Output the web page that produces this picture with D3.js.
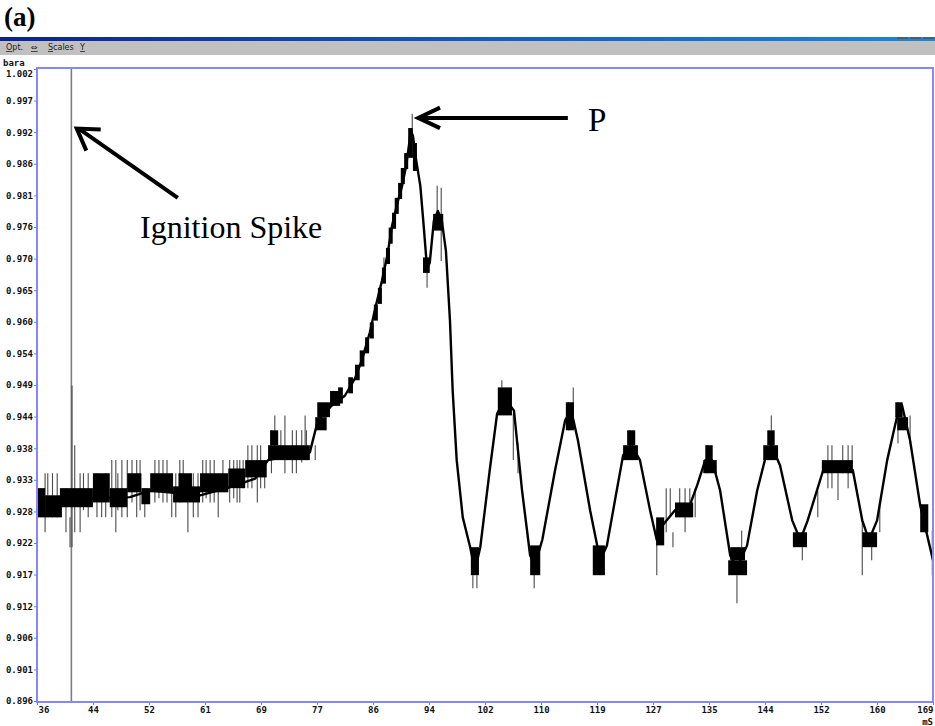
<!DOCTYPE html>
<html>
<head>
<meta charset="utf-8">
<script src="https://cdn.jsdelivr.net/npm/d3@7"></script>
<style>
  html, body { margin: 0; padding: 0; background: #fff; }
  svg { display: block; }
  .axis text { font-family: "DejaVu Sans Mono", monospace; font-weight: bold; font-size: 9px; fill: #111; }
  .axis line { stroke: #7878ff; }
</style>
</head>
<body>
<svg id="chart" width="935" height="726"></svg>
<script>
// axis ranges and tick labels as printed by the logger
const xDomain = [36, 169];
const yDomain = [0.896, 1.002];
const xTickLabels = ["36","44","52","61","69","77","86","94","102","110","119","127","135","144","152","160","169"];
const yTickLabels = ["0.896","0.901","0.906","0.912","0.917","0.922","0.928","0.933","0.938","0.944","0.949","0.954","0.960","0.965","0.970","0.976","0.981","0.986","0.992","0.997","1.002"];

// ignition marker (ms)
const ignitionMs = 41.1;

// main pressure trace [ms, bara]
const trace = [
  [36.0,0.9293],[39.7,0.9287],[44.3,0.9300],[49.8,0.9302],[52.8,0.9313],[60.2,0.9305],[64.2,0.9317],
  [68.4,0.9333],[70.3,0.9364],[76.5,0.9377],[77.7,0.9431],[79.8,0.9456],[81.7,0.9472],[83.2,0.9501],
  [84.2,0.9531],[85.4,0.9578],[86.3,0.9623],[87.2,0.9665],[88.0,0.9707],[88.7,0.9757],[89.4,0.9791],
  [90.2,0.9824],[90.8,0.9858],[91.2,0.9891],[91.5,0.9916],[91.8,0.9908],[92.3,0.9866],[92.9,0.9824],
  [93.4,0.9757],[93.9,0.9685],[94.3,0.9695],[94.9,0.9765],[95.5,0.9782],[96.1,0.9765],[96.7,0.9715],
  [97.3,0.9598],[97.7,0.9481],[98.3,0.9364],[99.2,0.9268],[100.3,0.9218],[101.0,0.9179],[101.8,0.9218],
  [103.2,0.9347],[104.3,0.9442],[105.5,0.9467],[106.8,0.9447],[108.0,0.9313],[109.2,0.9204],[109.9,0.9188],
  [111.0,0.9230],[112.9,0.9347],[114.4,0.9431],[115.3,0.9447],[116.3,0.9397],[118.1,0.9280],[119.6,0.9196],
  [120.6,0.9221],[121.8,0.9297],[123.0,0.9372],[124.2,0.9389],[125.5,0.9364],[127.0,0.9280],[128.0,0.9230],
  [128.9,0.9255],[130.7,0.9280],[132.9,0.9288],[134.0,0.9322],[135.2,0.9364],[136.2,0.9364],[137.4,0.9313],
  [138.9,0.9204],[139.9,0.9183],[141.4,0.9221],[142.9,0.9313],[144.4,0.9380],[145.0,0.9389],[146.3,0.9355],
  [148.1,0.9263],[149.3,0.9230],[150.4,0.9263],[152.7,0.9347],[154.9,0.9355],[157.1,0.9347],[158.5,0.9263],
  [159.5,0.9230],[160.7,0.9263],[162.2,0.9364],[163.7,0.9439],[164.4,0.9456],[165.6,0.9397],[167.1,0.9288],
  [169.0,0.9196]
];

// dense toggling between adjacent levels [msStart, msEnd, high, low]
const blocks = [
  // flat pre-ignition band
  [36.0,37.2,0.9317,0.9268],[37.2,39.7,0.9305,0.9268],[39.4,44.3,0.9317,0.9285],[44.3,46.8,0.9342,0.9293],
  [46.8,49.4,0.9317,0.9285],[49.4,51.5,0.9342,0.9310],[51.5,52.8,0.9317,0.9290],[52.8,56.2,0.9342,0.9310],
  [56.2,60.2,0.9320,0.9293],[57.0,59.0,0.9342,0.9317],[60.2,64.4,0.9342,0.9310],[64.4,66.9,0.9350,0.9317],
  [66.9,70.1,0.9364,0.9335],[70.3,76.5,0.9389,0.9364],[70.6,71.8,0.9414,0.9389],[77.3,79.0,0.9436,0.9414],
  [77.6,79.5,0.9461,0.9436],[79.5,81.0,0.9480,0.9455],
  // rise to the peak
  [80.7,81.4,0.9486,0.9459],[82.2,82.9,0.9503,0.9476],[83.2,83.9,0.9524,0.9498],[83.9,84.6,0.9548,0.9521],
  [84.7,85.3,0.9570,0.9543],[85.4,86.0,0.9595,0.9568],[86.0,86.6,0.9625,0.9598],[86.6,87.2,0.9653,0.9626],
  [87.2,87.8,0.9687,0.9660],[87.8,88.4,0.9720,0.9693],[88.2,88.8,0.9754,0.9727],[88.7,89.3,0.9779,0.9752],
  [89.1,89.7,0.9804,0.9777],[89.6,90.2,0.9829,0.9802],[90.0,90.6,0.9854,0.9827],[90.5,91.1,0.9879,0.9852],
  [91.1,91.8,0.9921,0.9871],[91.8,92.4,0.9896,0.9849],[93.3,94.3,0.9704,0.9678],[94.8,96.3,0.9777,0.9749],
  // oscillations
  [100.4,101.6,0.9218,0.9171],[104.4,106.5,0.9486,0.9439],[109.2,110.7,0.9221,0.9171],[114.5,115.7,0.9461,0.9414],
  [118.5,120.3,0.9221,0.9171],[123.0,125.2,0.9389,0.9364],[123.6,124.8,0.9414,0.9389],[127.9,129.1,0.9268,0.9221],
  [130.7,133.4,0.9293,0.9268],[134.9,136.9,0.9364,0.9342],[135.2,136.3,0.9389,0.9364],[138.6,141.4,0.9196,0.9171],
  [138.9,141.1,0.9218,0.9196],[143.8,146.0,0.9389,0.9364],[144.4,145.5,0.9414,0.9389],[148.2,150.3,0.9243,0.9218],
  [152.5,157.1,0.9364,0.9342],[158.5,160.7,0.9243,0.9218],[163.4,164.5,0.9461,0.9436],[163.7,165.3,0.9436,0.9414],
  [167.1,168.3,0.9290,0.9243]
];

// single-sample noise spikes [ms, high, low]
const spikes = [
  [37.2,0.9342,0.9243],[37.6,0.9342,0.9268],[38.3,0.9342,0.9268],[39.0,0.9342,0.9268],[40.3,0.9317,0.9243],
  [40.9,0.9268,0.9218],[41.2,0.9489,0.9218],[41.6,0.9389,0.9243],[42.4,0.9342,0.9243],[42.9,0.9342,0.9280],
  [43.6,0.9342,0.9268],[44.9,0.9342,0.9268],[45.6,0.9317,0.9268],[46.2,0.9342,0.9268],[47.1,0.9364,0.9268],
  [47.7,0.9364,0.9243],[48.0,0.9342,0.9280],[48.6,0.9364,0.9268],[49.4,0.9364,0.9268],[50.1,0.9364,0.9293],
  [50.8,0.9364,0.9268],[51.3,0.9364,0.9280],[52.0,0.9317,0.9268],[53.5,0.9364,0.9293],[54.1,0.9364,0.9300],
  [54.7,0.9364,0.9293],[55.3,0.9364,0.9293],[56.0,0.9317,0.9268],[56.6,0.9342,0.9268],[57.2,0.9364,0.9293],
  [57.7,0.9364,0.9317],[58.4,0.9317,0.9243],[59.2,0.9342,0.9268],[59.9,0.9342,0.9268],[60.6,0.9364,0.9293],
  [61.1,0.9364,0.9300],[61.7,0.9364,0.9293],[62.3,0.9364,0.9293],[62.9,0.9317,0.9268],[63.6,0.9364,0.9317],
  [64.6,0.9364,0.9293],[65.2,0.9364,0.9300],[65.7,0.9364,0.9293],[66.1,0.9364,0.9293],[66.6,0.9364,0.9317],
  [67.3,0.9389,0.9317],[67.9,0.9389,0.9317],[68.7,0.9389,0.9293],[69.2,0.9389,0.9317],[69.8,0.9364,0.9317],
  [70.8,0.9414,0.9342],[71.3,0.9439,0.9364],[72.2,0.9414,0.9364],[72.8,0.9439,0.9342],[73.9,0.9414,0.9342],
  [74.5,0.9414,0.9342],[75.3,0.9414,0.9360],[75.8,0.9439,0.9389],[76.0,0.9414,0.9364],[77.3,0.9389,0.9364],
  [87.5,0.9704,0.9682],[91.7,0.9945,0.9921],[93.9,0.9682,0.9653],[95.4,0.9824,0.9777],[96.0,0.9821,0.9698],
  [100.7,0.9171,0.9149],[101.3,0.9171,0.9149],[105.0,0.9498,0.9486],[106.7,0.9442,0.9364],[107.4,0.9392,0.9342],
  [109.8,0.9196,0.9149],[114.9,0.9461,0.9414],[115.6,0.9486,0.9442],[124.0,0.9414,0.9385],[128.0,0.9246,0.9171],
  [129.4,0.9317,0.9243],[130.0,0.9317,0.9268],[130.4,0.9243,0.9218],[131.4,0.9317,0.9268],[132.2,0.9317,0.9243],
  [132.9,0.9317,0.9268],[133.7,0.9317,0.9268],[135.5,0.9389,0.9342],[139.9,0.9171,0.9124],[140.6,0.9246,0.9218],
  [145.0,0.9439,0.9414],[149.6,0.9218,0.9196],[151.9,0.9313,0.9268],[153.4,0.9389,0.9317],[154.0,0.9389,0.9317],
  [154.9,0.9342,0.9297],[155.6,0.9389,0.9342],[156.4,0.9389,0.9317],[157.0,0.9389,0.9342],[158.5,0.9268,0.9171],
  [159.9,0.9243,0.9196],[161.1,0.9293,0.9243],[163.8,0.9461,0.9392],[165.6,0.9439,0.9392],[168.9,0.9246,0.9171]
];

// callouts, in data coordinates
const callouts = [
  {text: "Ignition Spike", tail: [56.9, 0.9804], tip: [41.9, 0.9920], label: [51.3, 0.9737], size: 32, spread: 0.56},
  {text: "P", tail: [114.8, 0.9938], tip: [92.6, 0.9938], label: [117.8, 0.9916], size: 33, spread: 0.44}
];

const svg = d3.select("#chart");
const x = d3.scaleLinear().domain(xDomain).range([37, 933]);
const y = d3.scaleLinear().domain(yDomain).range([701, 69]);

const xTickVals = xTickLabels.map((d, i) => xDomain[0] + i * (xDomain[1] - xDomain[0]) / (xTickLabels.length - 1));
const yTickVals = yTickLabels.map((d, i) => yDomain[0] + i * (yDomain[1] - yDomain[0]) / (yTickLabels.length - 1));

svg.append("rect").attr("width", 935).attr("height", 726).attr("fill", "#fff");

// figure tag
svg.append("text")
  .attr("x", 4).attr("y", 26)
  .attr("font-family", "Liberation Serif, serif")
  .attr("font-weight", "bold")
  .attr("font-size", 27)
  .text("(a)");

// window chrome of the logger screenshot
const grad = svg.append("defs").append("linearGradient").attr("id", "titlebar");
grad.append("stop").attr("offset", "0%").attr("stop-color", "#0b2290");
grad.append("stop").attr("offset", "60%").attr("stop-color", "#1462c8");
grad.append("stop").attr("offset", "100%").attr("stop-color", "#1a86da");
svg.append("rect").attr("x", 0).attr("y", 37).attr("width", 935).attr("height", 4).attr("fill", "url(#titlebar)");
svg.append("rect").attr("x", 0).attr("y", 41).attr("width", 935).attr("height", 14).attr("fill", "#c0c0c0");
[897, 910, 923].forEach(bx => {
  svg.append("rect").attr("x", bx).attr("y", 37).attr("width", 11).attr("height", 2).attr("fill", "#5a5a5a");
});

const menu = [["Opt.", 6], ["\u21d4", 31], ["Scales", 48], ["Y", 80]];
menu.forEach(([label, mx]) => {
  const t = svg.append("text")
    .attr("x", mx).attr("y", 50)
    .attr("font-family", "DejaVu Sans, sans-serif")
    .attr("font-size", 8)
    .attr("fill", "#222");
  t.append("tspan").attr("text-decoration", "underline").text(label[0]);
  t.append("tspan").text(label.slice(1));
});

svg.append("text")
  .attr("x", 3).attr("y", 66)
  .attr("font-family", "DejaVu Sans Mono, monospace")
  .attr("font-weight", "bold")
  .attr("font-size", 9)
  .attr("fill", "#111")
  .text("bara");

// ignition marker line
svg.append("line")
  .attr("x1", x(ignitionMs)).attr("x2", x(ignitionMs))
  .attr("y1", y(yDomain[1])).attr("y2", y(yDomain[0]))
  .attr("stroke", "#7d7d7d")
  .attr("stroke-width", 1.6);

// noise spikes
svg.append("g").selectAll("line")
  .data(spikes)
  .enter().append("line")
  .attr("x1", d => x(d[0])).attr("x2", d => x(d[0]))
  .attr("y1", d => y(d[1])).attr("y2", d => y(d[2]))
  .attr("stroke", "#4a4a4a")
  .attr("stroke-width", 1.1);

// dense blocks
svg.append("g").selectAll("rect")
  .data(blocks)
  .enter().append("rect")
  .attr("x", d => x(d[0]))
  .attr("width", d => x(d[1]) - x(d[0]))
  .attr("y", d => y(d[2]))
  .attr("height", d => y(d[3]) - y(d[2]))
  .attr("fill", "#000");

// trace
const line = d3.line()
  .x(d => x(d[0]))
  .y(d => y(d[1]));

svg.append("path")
  .datum(trace)
  .attr("fill", "none")
  .attr("stroke", "#000")
  .attr("stroke-width", 2.4)
  .attr("stroke-linejoin", "round")
  .attr("d", line);

// frame
svg.append("rect")
  .attr("x", 37).attr("y", 68)
  .attr("width", 896).attr("height", 634)
  .attr("fill", "none")
  .attr("stroke", "#8686ff")
  .attr("stroke-width", 2);

// axes
const yAxis = svg.append("g")
  .attr("class", "axis")
  .attr("transform", "translate(37,0)")
  .call(d3.axisLeft(y).tickValues(yTickVals).tickFormat((d, i) => yTickLabels[i]).tickSize(3).tickPadding(1));
yAxis.select(".domain").remove();
yAxis.selectAll(".tick text").filter((d, i) => i === yTickLabels.length - 1).attr("dy", "0.8em");

const xAxis = svg.append("g")
  .attr("class", "axis")
  .attr("transform", "translate(0,702)")
  .call(d3.axisBottom(x).tickValues(xTickVals).tickFormat((d, i) => xTickLabels[i]).tickSize(3).tickPadding(2));
xAxis.select(".domain").remove();
xAxis.selectAll(".tick text")
  .attr("text-anchor", (d, i) => i === 0 ? "start" : (i === xTickLabels.length - 1 ? "end" : "middle"))
  .attr("x", (d, i) => i === 0 ? 1 : 0);

svg.append("text")
  .attr("x", 933).attr("y", 725)
  .attr("text-anchor", "end")
  .attr("font-family", "DejaVu Sans Mono, monospace")
  .attr("font-weight", "bold")
  .attr("font-size", 9)
  .attr("fill", "#111")
  .text("mS");

// callout arrows and labels
function headPoints(tip, tail, len, ang) {
  const a = Math.atan2(tail[1] - tip[1], tail[0] - tip[0]);
  return [
    [tip[0] + len * Math.cos(a + ang), tip[1] + len * Math.sin(a + ang)],
    tip,
    [tip[0] + len * Math.cos(a - ang), tip[1] + len * Math.sin(a - ang)]
  ];
}

callouts.forEach(c => {
  const tip = [x(c.tip[0]), y(c.tip[1])];
  const tail = [x(c.tail[0]), y(c.tail[1])];
  svg.append("line")
    .attr("x1", tail[0]).attr("y1", tail[1])
    .attr("x2", tip[0] + 2 * Math.sign(tail[0] - tip[0])).attr("y2", tip[1])
    .attr("stroke", "#000")
    .attr("stroke-width", 4);
  svg.append("path")
    .attr("d", d3.line()(headPoints(tip, tail, 24, c.spread)))
    .attr("fill", "none")
    .attr("stroke", "#000")
    .attr("stroke-width", 4)
    .attr("stroke-linejoin", "miter");
  svg.append("text")
    .attr("x", x(c.label[0])).attr("y", y(c.label[1]))
    .attr("font-family", "Liberation Serif, serif")
    .attr("font-size", c.size)
    .attr("fill", "#000")
    .text(c.text);
});
</script>
</body>
</html>
